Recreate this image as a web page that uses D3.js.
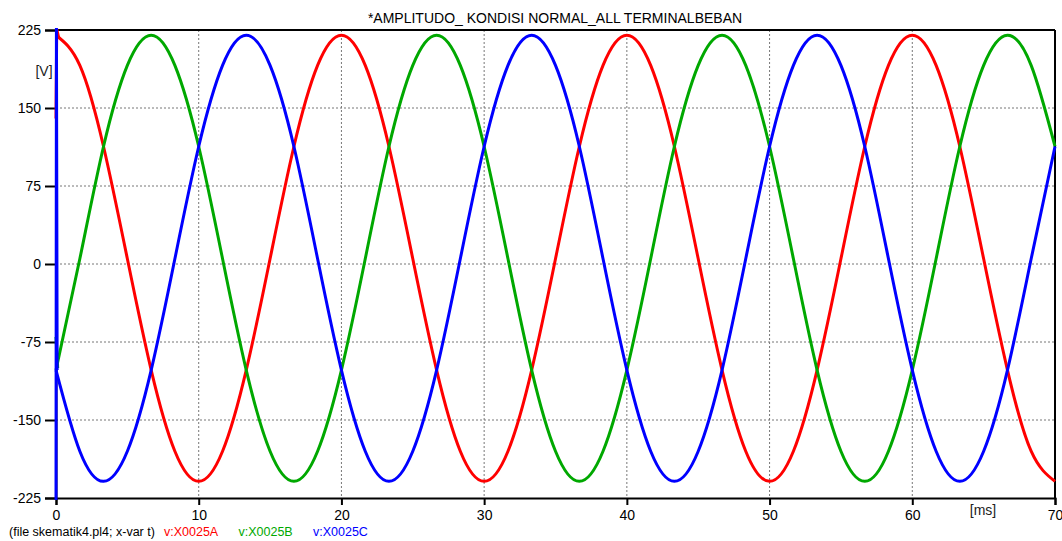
<!DOCTYPE html>
<html>
<head>
<meta charset="utf-8">
<script src="https://cdn.jsdelivr.net/npm/d3@7"></script>
<style>
  body { margin: 0; background: #fff; }
  svg { display: block; font-family: "Liberation Sans", Arial, sans-serif; }
</style>
</head>
<body>
<svg id="chart" width="1062" height="541"></svg>
<script>
// sample times [ms], every 30 degrees of a 50 Hz wave
const times = [0, 1.67, 3.33, 5, 6.67, 8.33, 10, 11.67, 13.33, 15, 16.67, 18.33,
  20, 21.67, 23.33, 25, 26.67, 28.33, 30, 31.67, 33.33, 35, 36.67, 38.33,
  40, 41.67, 43.33, 45, 46.67, 48.33, 50, 51.67, 53.33, 55, 56.67, 58.33,
  60, 61.67, 63.33, 65, 66.67, 68.33, 70];

// values [V]
const phaseA = [220, 191, 113, 5, -102, -180, -209, -180, -102, 5, 113, 191,
  220, 191, 113, 5, -102, -180, -209, -180, -102, 5, 113, 191,
  220, 191, 113, 5, -102, -180, -209, -180, -102, 5, 113, 191,
  220, 191, 113, 5, -102, -180, -209];
const phaseB = [-102, 5, 113, 191, 220, 191, 113, 5, -102, -180, -209, -180,
  -102, 5, 113, 191, 220, 191, 113, 5, -102, -180, -209, -180,
  -102, 5, 113, 191, 220, 191, 113, 5, -102, -180, -209, -180,
  -102, 5, 113, 191, 220, 191, 113];
const phaseC = [-102, -180, -209, -180, -102, 5, 113, 191, 220, 191, 113, 5,
  -102, -180, -209, -180, -102, 5, 113, 191, 220, 191, 113, 5,
  -102, -180, -209, -180, -102, 5, 113, 191, 220, 191, 113, 5,
  -102, -180, -209, -180, -102, 5, 113];

// switching transient right at t = 0
const startA = [[0, 140], [0.05, 226], [0.2, 217]];
const startB = [[0, -70], [0.12, -100]];
const startC = [[0, -232], [0.03, 232], [0.08, -102]];

const yTicks = [-225, -150, -75, 0, 75, 150, 225];
const xTicks = [0, 10, 20, 30, 40, 50, 60, 70];

const series = [
  { name: "v:X0025A", color: "#ff0000", values: phaseA, start: startA },
  { name: "v:X0025B", color: "#00a800", values: phaseB, start: startB },
  { name: "v:X0025C", color: "#0000ff", values: phaseC, start: startC }
];

const svg = d3.select("#chart");
const margin = { left: 56, right: 7, top: 30, bottom: 43 };
const width = 1062, height = 541;

const x = d3.scaleLinear().domain([0, 70]).range([margin.left, width - margin.right]);
const y = d3.scaleLinear().domain([-225, 225]).range([height - margin.bottom, margin.top]);

// title
svg.append("text")
  .attr("x", 555).attr("y", 23)
  .attr("text-anchor", "middle")
  .attr("font-size", 14)
  .text("*AMPLITUDO_ KONDISI NORMAL_ALL TERMINALBEBAN");

// grid
svg.append("g").selectAll("line")
  .data(xTicks.slice(1, -1))
  .join("line")
  .attr("x1", d => x(d)).attr("x2", d => x(d))
  .attr("y1", y(225)).attr("y2", y(-225))
  .attr("stroke", "#777").attr("stroke-dasharray", "2,2");
svg.append("g").selectAll("line")
  .data(yTicks.slice(1, -1))
  .join("line")
  .attr("x1", x(0)).attr("x2", x(70))
  .attr("y1", d => y(d)).attr("y2", d => y(d))
  .attr("stroke", "#777").attr("stroke-dasharray", "2,2");

// axes (plain hyphen for negatives, like the original)
const plain = d => String(d);
const yAxis = svg.append("g")
  .attr("transform", `translate(${x(0)},0)`)
  .call(d3.axisLeft(y).tickValues(yTicks).tickFormat(plain).tickSize(11).tickPadding(4));
const xAxis = svg.append("g")
  .attr("transform", `translate(0,${y(-225)})`)
  .call(d3.axisBottom(x).tickValues(xTicks).tickFormat(plain).tickSize(7).tickPadding(5));
[yAxis, xAxis].forEach(a => {
  a.select(".domain").attr("stroke", "#000").attr("stroke-width", 2);
  a.selectAll(".tick line").attr("stroke", "#000").attr("stroke-width", 2);
  a.selectAll(".tick text").attr("font-size", 14).attr("fill", "#000")
    .attr("font-family", "Liberation Sans, Arial, sans-serif");
});

// top and right frame
svg.append("line")
  .attr("x1", x(0)).attr("x2", x(70)).attr("y1", y(225)).attr("y2", y(225))
  .attr("stroke", "#000").attr("stroke-width", 2);
svg.append("line")
  .attr("x1", x(70)).attr("x2", x(70)).attr("y1", y(225)).attr("y2", y(-225))
  .attr("stroke", "#000").attr("stroke-width", 2);

// units
svg.append("text").attr("x", 44).attr("y", 76).attr("text-anchor", "middle")
  .attr("font-size", 14).attr("fill", "#222").text("[V]");
svg.append("text").attr("x", 983).attr("y", 515).attr("text-anchor", "middle")
  .attr("font-size", 14).attr("fill", "#222").text("[ms]");

// curves
svg.append("clipPath").attr("id", "plotclip")
  .append("rect")
  .attr("x", x(0) - 2).attr("y", y(225) - 2)
  .attr("width", x(70) - x(0) + 4).attr("height", y(-225) - y(225) + 4);

const plot = svg.append("g").attr("clip-path", "url(#plotclip)");
const smooth = d3.line().x(d => x(d[0])).y(d => y(d[1])).curve(d3.curveNatural);
const straight = d3.line().x(d => x(d[0])).y(d => y(d[1]));

series.forEach(s => {
  const pts = times.map((t, i) => [t, s.values[i]]);
  plot.append("path")
    .attr("d", smooth(pts))
    .attr("fill", "none").attr("stroke", s.color).attr("stroke-width", 3);
});
series.forEach(s => {
  plot.append("path")
    .attr("d", straight(s.start))
    .attr("fill", "none").attr("stroke", s.color).attr("stroke-width", 3);
});

// bottom legend
const legend = svg.append("text").attr("y", 536).attr("font-size", 12.5);
legend.append("tspan").attr("x", 9).attr("fill", "#000").text("(file skematik4.pl4; x-var t)");
series.forEach((s, i) => {
  legend.append("tspan").attr("x", 164 + i * 74.5).attr("fill", s.color).text(s.name);
});
</script>
</body>
</html>
